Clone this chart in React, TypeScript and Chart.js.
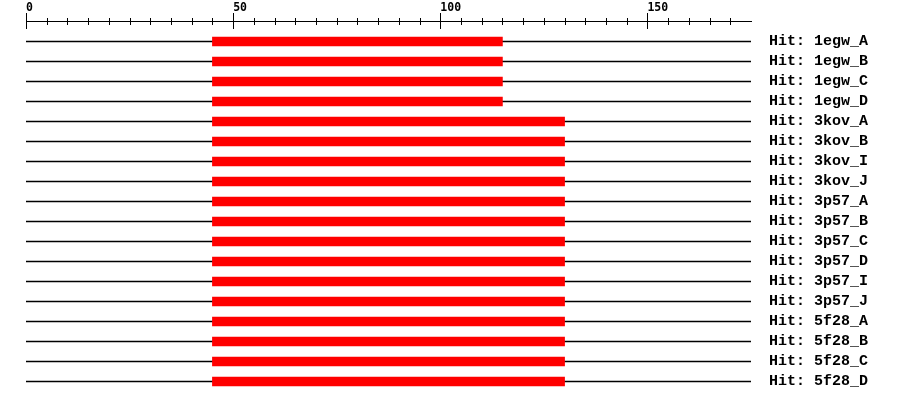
import React, { useEffect, useRef } from "react";
import Chart from "chart.js/auto";

const hitNames = [
  "Hit: 1egw_A", "Hit: 1egw_B", "Hit: 1egw_C", "Hit: 1egw_D",
  "Hit: 3kov_A", "Hit: 3kov_B", "Hit: 3kov_I", "Hit: 3kov_J",
  "Hit: 3p57_A", "Hit: 3p57_B", "Hit: 3p57_C", "Hit: 3p57_D",
  "Hit: 3p57_I", "Hit: 3p57_J", "Hit: 5f28_A", "Hit: 5f28_B",
  "Hit: 5f28_C", "Hit: 5f28_D",
];
const queryLength = 175;
const hitStarts = [45, 45, 45, 45, 45, 45, 45, 45, 45, 45, 45, 45, 45, 45, 45, 45, 45, 45];
const hitEnds = [115, 115, 115, 115, 130, 130, 130, 130, 130, 130, 130, 130, 130, 130, 130, 130, 130, 130];
const rulerTicks = [0, 5, 10, 15, 20, 25, 30, 35, 40, 45, 50, 55, 60, 65, 70, 75, 80, 85, 90, 95, 100, 105, 110, 115, 120, 125, 130, 135, 140, 145, 150, 155, 160, 165, 170];
const majorStep = 50;

const rulerPlugin = {
  id: "ruler",
  afterDraw(chart: any) {
    const xs = chart.scales.x;
    const ctx = chart.ctx;
    const top = chart.chartArea.top;
    ctx.save();
    ctx.strokeStyle = "#000000";
    ctx.lineWidth = 1;
    ctx.beginPath();
    xs.ticks.forEach((t: any) => {
      const px = Math.round(xs.getPixelForValue(t.value)) + 0.5;
      const major = t.value % majorStep === 0;
      const up = major ? 8 : 3;
      const down = major ? 8 : 4;
      ctx.moveTo(px, top - up);
      ctx.lineTo(px, top + down);
    });
    ctx.stroke();
    ctx.restore();
  },
};

export default function App() {
  const ref = useRef<HTMLCanvasElement>(null);
  useEffect(() => {
    document.body.style.margin = "0";
    const yMin = -1.025;
    const yMax = 17.925;
    const chart = new Chart(ref.current!, {
      type: "bar",
      data: {
        labels: hitNames,
        datasets: [
          {
            label: "query",
            data: hitNames.map((_, i) => ({ x: [0, queryLength], y: i })) as any,
            backgroundColor: "#000000",
            borderWidth: 0,
            maxBarThickness: 1,
            grouped: false,
            categoryPercentage: 1,
            barPercentage: 1,
            order: 1,
          },
          {
            label: "hits",
            data: hitNames.map((_, i) => ({ x: [hitStarts[i], hitEnds[i]], y: i })) as any,
            backgroundColor: "#ff0000",
            borderWidth: 0,
            maxBarThickness: 9,
            grouped: false,
            categoryPercentage: 1,
            barPercentage: 1,
            order: 0,
          },
        ],
      },
      options: {
        indexAxis: "y",
        animation: false,
        responsive: false,
        devicePixelRatio: 1,
        layout: { autoPadding: false, padding: { left: 26, top: 0, right: 0, bottom: 0 } },
        plugins: { legend: { display: false }, tooltip: { enabled: false } },
        scales: {
          x: {
            type: "linear",
            position: "top",
            min: 0,
            max: queryLength,
            afterBuildTicks: (s: any) => {
              s.ticks = rulerTicks.map((v) => ({ value: v }));
            },
            afterFit: (s: any) => {
              s.height = 21;
              s.paddingLeft = 0;
              s.paddingRight = 0;
            },
            ticks: {
              autoSkip: false,
              maxRotation: 0,
              align: "start",
              padding: 6,
              color: "#000000",
              font: { family: "DejaVu Sans Mono", size: 11.5, weight: "bold" },
              callback: (v: any) => (Number(v) % majorStep === 0 ? String(v) : ""),
            },
            grid: { display: false, drawTicks: false, drawOnChartArea: false },
            border: { display: true, color: "#000000", width: 1 },
          },
          y: {
            type: "linear",
            position: "right",
            reverse: true,
            offset: false,
            min: yMin,
            max: yMax,
            afterBuildTicks: (s: any) => {
              s.ticks = hitNames.map((_, i) => ({ value: i }));
            },
            afterFit: (s: any) => {
              s.width = 149;
              s.paddingTop = 0;
              s.paddingBottom = 0;
            },
            ticks: {
              autoSkip: false,
              padding: 18,
              color: "#000000",
              font: { family: "Liberation Mono", size: 15, weight: "bold" },
              callback: (v: any) => hitNames[Number(v)] ?? "",
            },
            grid: { display: false, drawTicks: false, offset: false },
            border: { display: false },
          },
        },
      },
      plugins: [rulerPlugin],
    } as any);
    return () => chart.destroy();
  }, []);
  return (
    <div style={{ width: 900, height: 400 }}>
      <canvas ref={ref} width={900} height={400} />
    </div>
  );
}
